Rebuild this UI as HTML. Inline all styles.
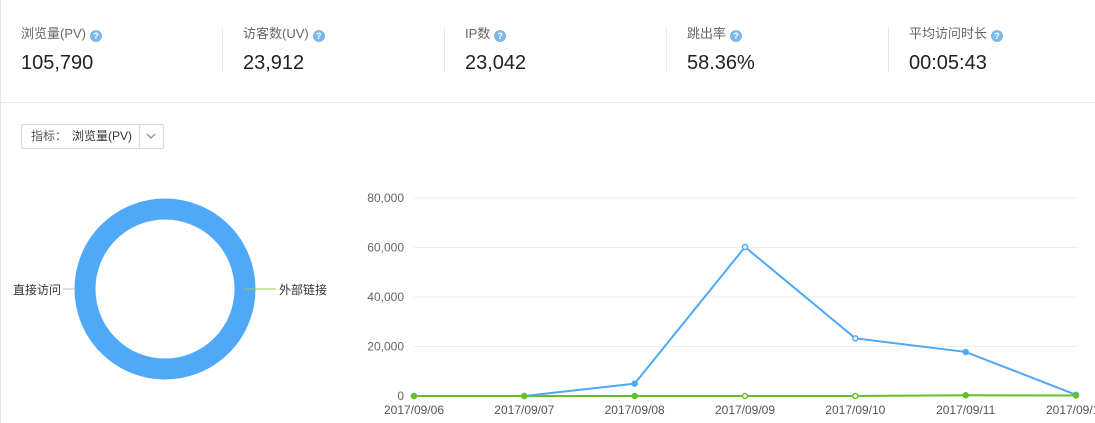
<!DOCTYPE html>
<html><head><meta charset="utf-8"><style>
body{margin:0;width:1095px;height:423px;overflow:hidden;background:#fff;font-family:"Liberation Sans","Noto Sans CJK SC",sans-serif;position:relative}
.stat{position:absolute;top:26px;width:200px}
.lab{font-size:13px;color:#666;height:16px;line-height:16px}
.q{display:inline-block;width:12px;height:12px;border-radius:50%;background:#7cb8ea;color:#fff;font-size:9px;line-height:12px;text-align:center;vertical-align:-1px;margin-left:4px;font-weight:bold}
.val{font-size:20px;color:#222;margin-top:10px}
.div{position:absolute;top:28px;height:44px;width:1px;background:#e8e8e8}
</style></head><body>
<div style="position:absolute;left:0;top:0;width:1px;height:423px;background:#e5e5e5"></div>
<div class="stat" style="left:21px"><div class="lab">浏览量(PV)<span class="q">?</span></div><div class="val">105,790</div></div>
<div class="div" style="left:222px"></div>
<div class="stat" style="left:243px"><div class="lab">访客数(UV)<span class="q">?</span></div><div class="val">23,912</div></div>
<div class="div" style="left:444px"></div>
<div class="stat" style="left:465px"><div class="lab">IP数<span class="q">?</span></div><div class="val">23,042</div></div>
<div class="div" style="left:666px"></div>
<div class="stat" style="left:687px"><div class="lab">跳出率<span class="q">?</span></div><div class="val">58.36%</div></div>
<div class="div" style="left:888px"></div>
<div class="stat" style="left:909px"><div class="lab">平均访问时长<span class="q">?</span></div><div class="val">00:05:43</div></div>
<div style="position:absolute;left:0;top:102px;width:1095px;height:1px;background:#e8e8e8"></div>
<div style="position:absolute;left:21px;top:124px;width:141px;height:23px;border:1px solid #d9d9d9;border-radius:2px;font-size:12px;color:#555;line-height:23px">
<span style="position:absolute;left:9px;top:0">指标：</span><span style="position:absolute;left:50px;top:0;color:#333;white-space:nowrap">浏览量(PV)</span>
<span style="position:absolute;left:117px;top:0;width:1px;height:23px;background:#d9d9d9"></span>
<svg style="position:absolute;left:124px;top:8px" width="10" height="7"><polyline points="1,1 5,5 9,1" fill="none" stroke="#999" stroke-width="1.5"/></svg></div>
<svg width="1095" height="423" style="position:absolute;left:0;top:0" id="svg">
<circle cx="165" cy="289" r="80" fill="none" stroke="#4fa8f8" stroke-width="21"/>
<line x1="63" y1="289" x2="75" y2="289" stroke="#bbb"/>
<line x1="244" y1="289" x2="276" y2="289" stroke="#8cd04a"/>
<text x="13" y="294" font-size="12" fill="#333">直接访问</text>
<text x="279" y="294" font-size="12" fill="#333">外部链接</text>
<g id="chart"></g>
</svg>
<script>
const categories=["2017/09/06","2017/09/07","2017/09/08","2017/09/09","2017/09/10","2017/09/11","2017/09/12"];
const blueValues=[0,0,5000,60200,23300,17800,500];
const greenValues=[0,0,0,0,0,300,200];
const yTicks=[0,20000,40000,60000,80000];
const tickLabels=["0","20,000","40,000","60,000","80,000"];
const x0=414,x1=1076,y0=396,y1=198,ymax=80000;
const X=i=>x0+i*(x1-x0)/(categories.length-1);
const Y=v=>y0-v/ymax*(y0-y1);
const g=document.getElementById('chart');
const NS='http://www.w3.org/2000/svg';
function mk(t,a){const e=document.createElementNS(NS,t);for(const k in a)e.setAttribute(k,a[k]);g.appendChild(e);return e;}
yTicks.forEach((t,i)=>{
 const l=mk('line',{x1:x0,x2:x1+2,y1:Y(t),y2:Y(t),stroke:'#eee'});
 
 
 const tx=mk('text',{x:404,y:Y(t)+4,'text-anchor':'end','font-size':12,fill:'#666'});
 tx.textContent=tickLabels[i];
 
 
});
categories.forEach((c,i)=>{
 const tx=mk('text',{x:X(i),y:414,'text-anchor':'middle','font-size':12,fill:'#555'});
 tx.textContent=c;
 
 
});
function series(vals,color,name){
 const p=mk('polyline',{points:vals.map((v,i)=>X(i)+','+Y(v)).join(' '),fill:'none',stroke:color,'stroke-width':2});
 
 
 vals.forEach((v,i)=>{
  const c=mk('circle',{cx:X(i),cy:Y(v),r:2.5,fill:(i==3||i==4)?'#fff':color,stroke:color,'stroke-width':1.5});
  
  
 });
}
series(blueValues,'#4fa8f8','pv');
series(greenValues,'#66c02a','external');
</script>
</body></html>
